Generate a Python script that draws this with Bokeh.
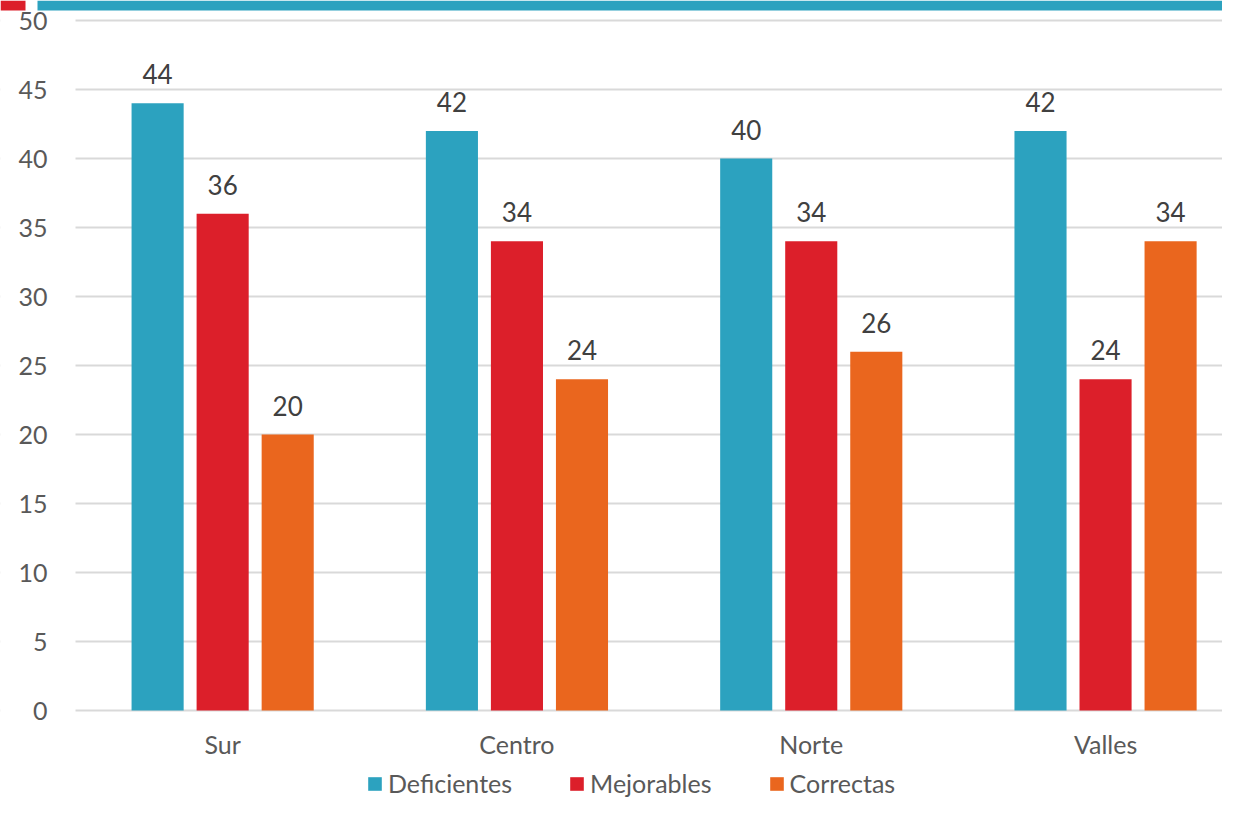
from bokeh.plotting import figure
from bokeh.models import (ColumnDataSource, FixedTicker, Range1d, Legend, LegendItem,
                          LabelSet, BoxAnnotation)
from bokeh.core.properties import value
from bokeh.embed import file_html
from bokeh.resources import INLINE
import numpy as np

categories = ["Sur", "Centro", "Norte", "Valles"]
series_names = ["Deficientes", "Mejorables", "Correctas"]
deficientes = [44, 42, 40, 42]
mejorables = [36, 34, 34, 24]
correctas = [20, 24, 26, 34]
y_ticks = [0, 5, 10, 15, 20, 25, 30, 35, 40, 45, 50]

colors = ["#2CA2BF", "#DC1F2A", "#EA661E"]
FONT = "Lato"
FIG_W, FIG_H = 1222, 801
PLOT_LEFT = 75            # pixel where the plotting area (gridlines) begins
PX_PER_UNIT = (710 - 20) / 50.0
CAT_PX = 294.3


def xpx(px):
    """pixel column -> x data value"""
    return -0.5 + (px - PLOT_LEFT) / CAT_PX


p = figure(frame_width=FIG_W, frame_height=FIG_H, output_backend="svg",
           toolbar_location=None,
           x_range=Range1d(xpx(0), xpx(FIG_W)),
           y_range=Range1d(-(FIG_H - 710) / PX_PER_UNIT, 50 + 20 / PX_PER_UNIT),
           min_border=0)
p.outline_line_color = None
p.background_fill_color = "white"

x = np.arange(len(categories))
offsets = [-0.221, 0.0, 0.221]
renderers = []
for vals, off, col in zip([deficientes, mejorables, correctas], offsets, colors):
    src = ColumnDataSource(dict(x=x + off, top=vals, lbl=[str(v) for v in vals]))
    r = p.vbar(x="x", top="top", bottom=0, width=0.177, source=src, fill_color=col,
               line_color=None)
    renderers.append(r)
    p.add_layout(LabelSet(x="x", y="top", text="lbl", source=src, text_align="center",
                          text_baseline="bottom", y_offset=19, text_font=value(FONT),
                          text_font_size="26px", text_color="#404040"))

p.xgrid.grid_line_color = None
p.ygrid.grid_line_color = "#D9D9D9"
p.ygrid.grid_line_width = 2
p.ygrid.ticker = FixedTicker(ticks=y_ticks)

# white mask so the gridlines start at the plotting-area edge (tick labels drawn above it)
p.add_layout(BoxAnnotation(right=xpx(PLOT_LEFT), fill_color="white", fill_alpha=1,
                           line_alpha=0, level="underlay"))

# decorative top bands (red tab + teal bar)
band_bottom = 50 + 10 / PX_PER_UNIT
p.add_layout(BoxAnnotation(bottom=band_bottom, right=xpx(25), fill_color="#DC1F2A",
                           fill_alpha=1, line_alpha=0, level="overlay"))
p.add_layout(BoxAnnotation(bottom=band_bottom, left=xpx(37), fill_color="#2CA2BF",
                           fill_alpha=1, line_alpha=0, level="overlay"))

p.yaxis.ticker = FixedTicker(ticks=y_ticks)
p.yaxis.fixed_location = xpx(PLOT_LEFT)
p.yaxis.axis_line_color = None
p.yaxis.major_tick_line_color = None
p.yaxis.minor_tick_line_color = None
p.yaxis.major_tick_out = 0
p.yaxis.major_label_standoff = 28
p.yaxis.major_label_text_font = FONT
p.yaxis.major_label_text_font_size = "25px"
p.yaxis.major_label_text_color = "#595959"

p.xaxis.ticker = FixedTicker(ticks=list(x))
p.xaxis.major_label_overrides = {int(i): c for i, c in zip(x, categories)}
p.xaxis.fixed_location = 0
p.xaxis.axis_line_color = None
p.xaxis.major_tick_line_color = None
p.xaxis.minor_tick_line_color = None
p.xaxis.major_tick_out = 0
p.xaxis.major_label_standoff = 18
p.xaxis.major_label_text_font = FONT
p.xaxis.major_label_text_font_size = "25px"
p.xaxis.major_label_text_color = "#595959"

legend = Legend(items=[LegendItem(label=n, renderers=[r]) for n, r in zip(series_names, renderers)],
                orientation="horizontal", location=(363, 0),
                glyph_width=17, glyph_height=17, label_standoff=5, spacing=56,
                label_text_font=FONT, label_text_font_size="25px",
                label_text_color="#595959", border_line_alpha=0,
                background_fill_alpha=0, margin=0, padding=3)
p.add_layout(legend, "center")

open("out.html", "w").write(file_html(p, INLINE))
